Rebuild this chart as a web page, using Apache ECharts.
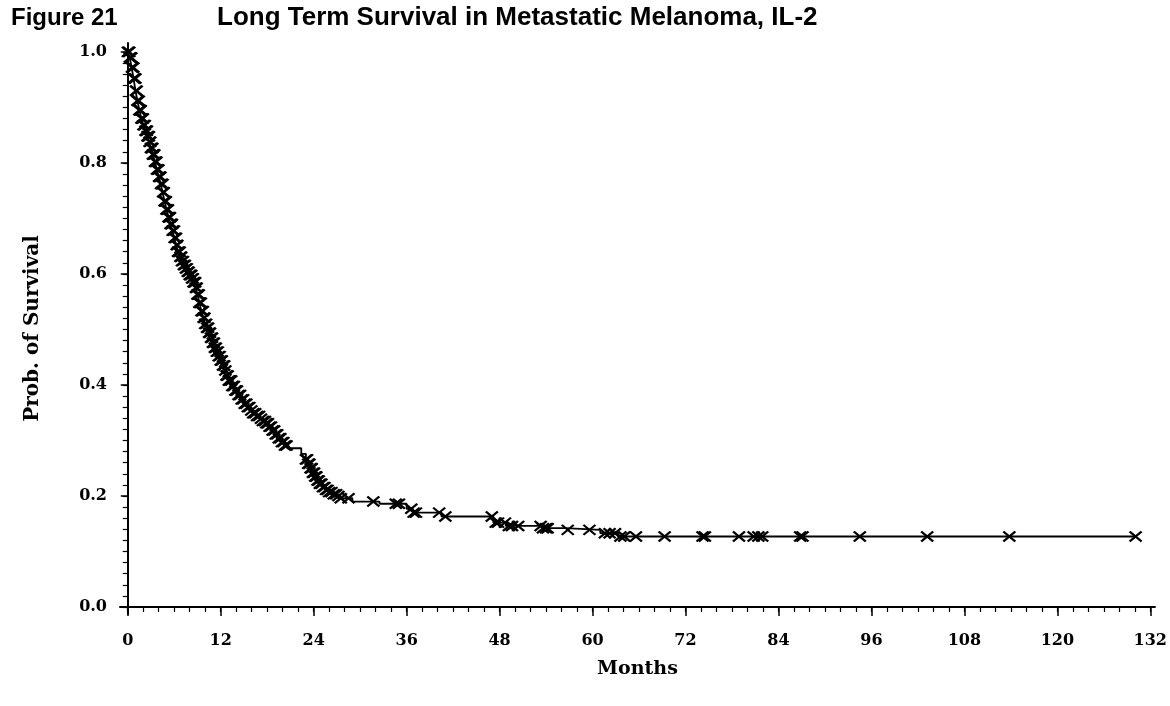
<!DOCTYPE html>
<html>
<head>
<meta charset="utf-8">
<script src="https://cdn.jsdelivr.net/npm/echarts@6/dist/echarts.min.js"></script>
<style>
html,body{margin:0;padding:0;background:#fff;}
#chart{width:1170px;height:706px;}
</style>
</head>
<body>
<div id="chart"></div>
<script>
// Kaplan-Meier step curve: survival value holds from each time onward
const stepTimes = [0, 0.25, 0.5, 0.75, 1.0, 1.25, 1.5, 1.75, 2.0, 2.25, 2.5, 2.75, 3.0, 3.25, 3.5, 3.75, 4.0, 4.25, 4.5, 4.75,
  5.0, 5.25, 5.5, 5.75, 6.0, 6.25, 6.5, 6.75, 7.0, 7.25, 7.5, 7.75, 8.0, 8.25, 8.5, 8.75, 9.0, 9.25, 9.5, 9.75,
  10.0, 10.25, 10.5, 10.75, 11.0, 11.25, 11.5, 11.75, 12.0, 12.25, 12.5, 12.75, 13.0, 13.4, 13.8, 14.2, 14.6, 15.0, 15.4, 15.8,
  16.2, 16.6, 17.0, 17.4, 17.8, 18.2, 18.6, 19.0, 19.4, 19.8, 20.2, 20.6, 22.4, 23.0, 23.3, 23.6, 23.9, 24.2, 24.5, 24.8,
  25.2, 25.6, 26.0, 26.5, 27.0, 27.5, 29.0, 32.5, 36.0, 36.8, 40.5, 47.2, 48.8, 53.5, 56.5, 61.0, 63.3, 130.1];
const stepSurv = [1.0, 0.99, 0.972, 0.952, 0.93, 0.912, 0.895, 0.88, 0.868, 0.858, 0.848, 0.838, 0.827, 0.815, 0.802, 0.788, 0.775, 0.762, 0.747, 0.731,
  0.716, 0.702, 0.69, 0.678, 0.665, 0.652, 0.64, 0.631, 0.623, 0.616, 0.61, 0.604, 0.598, 0.592, 0.585, 0.575, 0.563, 0.548, 0.533, 0.521,
  0.51, 0.503, 0.494, 0.485, 0.476, 0.467, 0.46, 0.452, 0.444, 0.435, 0.426, 0.417, 0.408, 0.398, 0.39, 0.382, 0.374, 0.366, 0.36, 0.354,
  0.349, 0.344, 0.339, 0.335, 0.331, 0.325, 0.318, 0.311, 0.304, 0.297, 0.291, 0.286, 0.276, 0.266, 0.258, 0.25, 0.242, 0.235, 0.228, 0.222,
  0.216, 0.211, 0.207, 0.203, 0.2, 0.196, 0.19, 0.186, 0.177, 0.170, 0.163, 0.152, 0.146, 0.142, 0.139, 0.133, 0.127, 0.127];

// Censored observation times (marked with x)
const censorTimes = [
  0.02, 0.1, 0.2, 0.28, 0.37, 0.45, 0.55, 0.63, 0.72, 0.8, 0.9, 0.98, 1.07, 1.15, 1.25, 1.33, 1.42, 1.5, 1.6, 1.68,
  1.77, 1.85, 1.95, 2.03, 2.12, 2.2, 2.3, 2.38, 2.47, 2.55, 2.65, 2.73, 2.82, 2.9, 3.0, 3.08, 3.17, 3.25, 3.35, 3.43,
  3.52, 3.6, 3.7, 3.78, 3.87, 3.95, 4.05, 4.13, 4.22, 4.3, 4.4, 4.48, 4.57, 4.65, 4.75, 4.83, 4.92, 5.0, 5.1, 5.18,
  5.27, 5.35, 5.45, 5.53, 5.62, 5.7, 5.8, 5.88, 5.97, 6.05, 6.15, 6.23, 6.32, 6.4, 6.5, 6.6, 6.7, 6.8, 6.9, 7.0,
  7.12, 7.25, 7.37, 7.5, 7.62, 7.75, 7.87, 8.0, 8.1, 8.2, 8.3, 8.4, 8.5, 8.6, 8.7, 8.8, 8.9, 9.0, 9.08, 9.17,
  9.25, 9.35, 9.43, 9.52, 9.6, 9.7, 9.8, 9.9,
  10.0, 10.12, 10.25, 10.37, 10.5, 10.62, 10.75, 10.87, 11.0, 11.12, 11.25, 11.37, 11.5, 11.62, 11.75, 11.87, 12.0, 12.15, 12.3, 12.45,
  12.6, 12.75, 12.9, 13.05, 13.2, 13.35, 13.5, 13.7, 13.9, 14.1, 14.3, 14.5, 14.7, 14.9, 15.1, 15.3, 15.5, 15.7, 15.95, 16.2,
  16.45, 16.7, 16.95, 17.2, 17.45, 17.7, 17.9, 18.1, 18.3, 18.5, 18.7, 18.9, 19.1, 19.3, 19.5, 19.7, 19.9,
  20.1, 20.3, 20.5, 23.0, 23.15, 23.3, 23.45, 23.6, 23.75, 23.9, 24.05, 24.2, 24.35, 24.5, 24.65, 24.8, 25.0, 25.2, 25.4, 25.6,
  25.8, 26.0, 26.3, 26.6, 26.9, 27.2, 27.5, 28.5,
  31.7, 34.6, 35.0, 36.6, 36.9, 37.2, 40.2, 41.0, 47.0, 47.5, 47.8, 48.7, 49.2, 49.6, 50.4, 53.3, 53.6, 54.0, 54.2, 56.8,
  59.6, 61.6, 62.2, 62.9, 63.6, 64.1, 65.6, 69.3, 74.2, 74.5, 78.9, 80.8, 81.4, 81.9, 86.8, 87.1, 94.5, 103.2, 113.8, 130.1];

const xTickValues = [0, 12, 24, 36, 48, 60, 72, 84, 96, 108, 120, 132];
const yTickValues = [0, 0.2, 0.4, 0.6, 0.8, 1.0];
const xMinorStep = 2;
const yMinorStep = 0.02;

const xMinorValues = [];
for (let i = 0; i <= 66; i++) xMinorValues.push(i * xMinorStep);
const yMinorValues = [];
for (let i = 0; i <= 50; i++) yMinorValues.push(Math.round(i * yMinorStep * 1000) / 1000);

function survAt(t) {
  let s = stepSurv[0];
  for (let i = 0; i < stepTimes.length; i++) {
    if (stepTimes[i] <= t + 1e-9) s = stepSurv[i]; else break;
  }
  return s;
}

const curveData = stepTimes.map((t, i) => [t, stepSurv[i]]);
const censorData = censorTimes.map(t => [t, survAt(t)]);

const serifBold = {fontFamily: 'DejaVu Serif', fontWeight: 'bold', color: '#000'};
const X_MIN = -1.0, X_MAX = 132.6, Y_MIN = -0.0126, Y_MAX = 1.016;

const chart = echarts.init(document.getElementById('chart'), null, {renderer: 'canvas'});
chart.setOption({
  animation: false,
  backgroundColor: '#fff',
  title: [
    {text: 'Figure 21', left: 6, top: 1, textStyle: {fontFamily: 'Liberation Sans', fontWeight: 'bold', fontSize: 24, color: '#000'}},
    {text: 'Long Term Survival in Metastatic Melanoma, IL-2', left: 212, top: 0, textStyle: {fontFamily: 'Liberation Sans', fontWeight: 'bold', fontSize: 26, color: '#000'}}
  ],
  grid: {left: 120, right: 10, top: 43, bottom: 92, containLabel: false},
  xAxis: [
    {
      type: 'value', min: X_MIN, max: X_MAX, position: 'bottom',
      name: 'Months', nameLocation: 'middle', nameGap: 46,
      nameTextStyle: Object.assign({fontSize: 19}, serifBold),
      axisLine: {show: true, lineStyle: {color: '#000', width: 2}},
      axisTick: {show: true, inside: false, length: 9, customValues: xTickValues, lineStyle: {color: '#000', width: 1.5}},
      axisLabel: {show: true, margin: 19, customValues: xTickValues, fontSize: 16, ...serifBold},
      splitLine: {show: false}
    },
    {
      type: 'value', min: X_MIN, max: X_MAX, position: 'bottom', gridIndex: 0,
      axisLine: {show: false},
      axisTick: {show: true, length: 5, customValues: xMinorValues, lineStyle: {color: '#000', width: 1.2}},
      axisLabel: {show: false},
      splitLine: {show: false}
    }
  ],
  yAxis: [
    {
      type: 'value', min: Y_MIN, max: Y_MAX, position: 'left',
      name: 'Prob. of Survival', nameLocation: 'middle', nameGap: 77, nameRotate: 90,
      nameTextStyle: Object.assign({fontSize: 20}, serifBold),
      axisLine: {show: true, lineStyle: {color: '#000', width: 2}},
      axisTick: {show: true, length: 7, customValues: yTickValues, lineStyle: {color: '#000', width: 1.5}},
      axisLabel: {show: true, margin: 13, customValues: yTickValues, fontSize: 16, ...serifBold,
        formatter: v => Number(v).toFixed(1)},
      splitLine: {show: false}
    },
    {
      type: 'value', min: Y_MIN, max: Y_MAX, position: 'left', gridIndex: 0,
      axisLine: {show: false},
      axisTick: {show: true, length: 5, customValues: yMinorValues, lineStyle: {color: '#000', width: 1.2}},
      axisLabel: {show: false},
      splitLine: {show: false}
    }
  ],
  series: [
    {
      type: 'line', step: 'end', data: curveData, xAxisIndex: 0, yAxisIndex: 0,
      showSymbol: false, symbol: 'none',
      lineStyle: {color: '#000', width: 1.8}, z: 2
    },
    {
      type: 'scatter', data: censorData, xAxisIndex: 0, yAxisIndex: 0,
      symbol: 'path://M0,0L10,10M10,0L0,10', symbolSize: [12, 10],
      itemStyle: {color: 'rgba(0,0,0,0)', borderColor: '#000', borderWidth: 2.2, opacity: 1},
      z: 3
    }
  ]
});
</script>
</body>
</html>
